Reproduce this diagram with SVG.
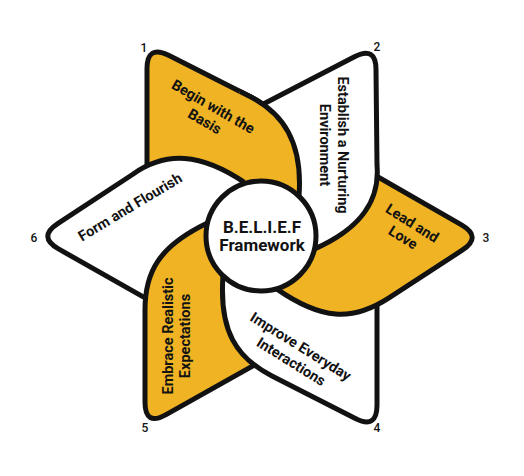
<svg xmlns="http://www.w3.org/2000/svg" width="524" height="476" viewBox="0 0 524 476">
<style>
.gold{fill:#EFB324}
.white{fill:#ffffff}
.edge{stroke:#121212;stroke-width:5;stroke-linejoin:round}
.lbl{font-family:Roboto,"Liberation Sans",sans-serif;font-weight:700;font-size:14.5px;fill:#121212;text-anchor:middle}
.ctr{font-family:Roboto,"Liberation Sans",sans-serif;font-weight:700;font-size:17px;fill:#121212;text-anchor:middle}
.num{font-family:Roboto,"Liberation Sans",sans-serif;font-weight:500;font-size:12px;fill:#121212;text-anchor:middle}
</style>
<defs>
<path id="shape1" class="gold edge" d="M147,190 L147,68.7 Q147,44.5 168.6,55.3 L249,96 C283,113 303,142 299,196 L261,236 Z"/>
<clipPath id="clipTop"><polygon points="238,0 524,0 524,236 261,236 245.4,183.1 240,110"/></clipPath>
</defs>
<rect width="524" height="476" fill="#ffffff"/>
<g id="petal-1-base"><use href="#shape1"/></g>
<g id="petal-6">
<path class="white edge" d="M164,308.7 L58.5,248.9 Q37.5,237 57.7,223.7 L132.5,174.5 C165.7,151 200.6,152.6 245.4,183.1 L261,236 Z"/>
<text class="lbl" transform="translate(130,207) rotate(-31)" y="5">Form and Flourish</text>
</g>
<g id="petal-5">
<path class="gold edge" d="M278,351.8 L166.1,414.6 Q145,426.5 145,402.3 L145,310 C145,272 158.6,246.6 207.4,223.1 L261,236 Z"/>
<g transform="translate(176.7,336) rotate(-90)">
<text class="lbl" y="-3.5">Embrace Realistic</text>
<text class="lbl" y="13.5">Expectations</text>
</g>
</g>
<g id="petal-4">
<path class="white edge" d="M377,282 L377,405.3 Q377,429.5 355.4,418.5 L272,376 C236.4,357.8 219,331 223,276 L261,236 Z"/>
<g transform="translate(296,354) rotate(32)">
<text class="lbl" y="-4">Improve Everyday</text>
<text class="lbl" y="14">Interactions</text>
</g>
</g>
<g id="petal-3">
<path class="gold edge" d="M358,165.5 L461.5,224.9 Q482.5,237 462.2,250.2 L389,297.9 C352,321.9 321.4,320 276.6,288.9 L261,236 Z"/>
<g transform="translate(407.4,230.7) rotate(32)">
<text class="lbl" y="-4">Lead and</text>
<text class="lbl" y="13">Love</text>
</g>
</g>
<g id="petal-2">
<path class="white edge" d="M244,114 L354.5,56.7 Q376,45.5 376,69.7 L377,165 C380,200 362,228 314.6,248.9 L261,236 Z"/>
<g transform="translate(334,145) rotate(90)">
<text class="lbl" y="-4">Establish a Nurturing</text>
<text class="lbl" y="14">Environment</text>
</g>
</g>
<g id="petal-1">
<use href="#shape1" clip-path="url(#clipTop)"/>
<g transform="translate(209,114) rotate(30)">
<text class="lbl" y="-3.5">Begin with the</text>
<text class="lbl" y="13.5">Basis</text>
</g>
</g>
<g id="center">
<circle cx="261" cy="236" r="55" class="white edge"/>
<text class="ctr" x="262" y="233">B.E.L.I.E.F</text>
<text class="ctr" x="262" y="251">Framework</text>
</g>
<g id="numbers">
<text class="num" x="144" y="52">1</text>
<text class="num" x="377" y="51">2</text>
<text class="num" x="486" y="242">3</text>
<text class="num" x="377" y="432">4</text>
<text class="num" x="145" y="432">5</text>
<text class="num" x="34" y="242">6</text>
</g>
</svg>
